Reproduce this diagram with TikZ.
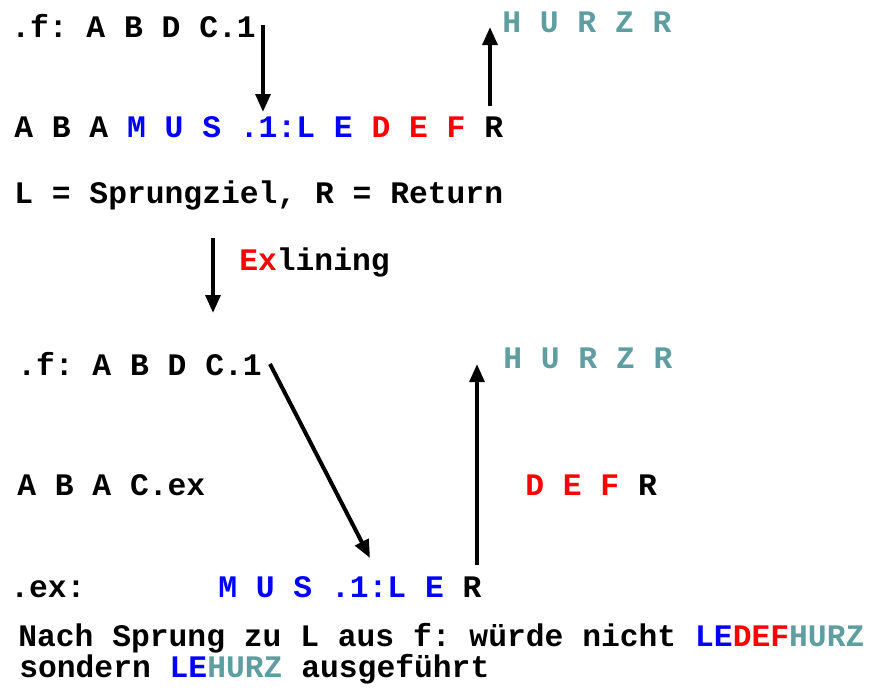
\documentclass[tikz,border=0pt]{standalone}
\usepackage{fontspec}
\setmonofont{Liberation Mono}
\usetikzlibrary{arrows.meta}
\definecolor{hblue}{RGB}{0,0,255}
\definecolor{hred}{RGB}{255,0,0}
\definecolor{hteal}{RGB}{95,158,160}
\begin{document}
\begin{tikzpicture}[x=0.75pt,y=-0.75pt,
  txt/.style={anchor=base west, inner sep=0pt, font=\fontsize{23.5}{28}\selectfont\ttfamily\bfseries},
  arr/.style={line width=3pt, -{Triangle[length=13.5pt,width=11pt]}}]
\useasboundingbox[fill=white] (0,0) rectangle (872,689);
% top block
\node[txt] (f1) at (11,37) {.f: A B D C.1};
\node[txt, text=hteal] (h1) at (502,32) {H U R Z R};
\node[txt] (r2) at (14,137) {A B A \textcolor{hblue}{M U S .1:L E} \textcolor{hred}{D E F} R};
\node[txt] (leg) at (14,203) {L = Sprungziel, R = Return};
\node[txt] (ex) at (239,270) {\textcolor{hred}{Ex}lining};
\coordinate (a1s) at (263,25);  \coordinate (a1e) at (263,112);
\coordinate (a2s) at (490,106); \coordinate (a2e) at (490,27);
\coordinate (a3s) at (213,238); \coordinate (a3e) at (213,313);
\draw[arr] (a1s) -- (a1e);
\draw[arr] (a2s) -- (a2e);
\draw[arr] (a3s) -- (a3e);
% lower block
\node[txt] (f2) at (17,375) {.f: A B D C.1};
\node[txt, text=hteal] (h2) at (503,368) {H U R Z R};
\node[txt] (abac) at (17,495) {A B A C.ex};
\node[txt] (defr) at (525,495) {\textcolor{hred}{D E F} R};
\node[txt] (exl) at (10,597) {.ex:};
\node[txt] (mus) at (218,597) {\textcolor{hblue}{M U S .1:L E} R};
\coordinate (d1s) at (270,364); \coordinate (d1e) at (370,558);
\coordinate (u1s) at (477,565); \coordinate (u1e) at (477,364);
\draw[arr] (d1s) -- (d1e);
\draw[arr] (u1s) -- (u1e);
\node[txt] (n1) at (18,646) {Nach Sprung zu L aus f: würde nicht \textcolor{hblue}{LE}\textcolor{hred}{DEF}\textcolor{hteal}{HURZ}};
\node[txt] (n2) at (19,677) {sondern \textcolor{hblue}{LE}\textcolor{hteal}{HURZ} ausgeführt};
\end{tikzpicture}
\end{document}
